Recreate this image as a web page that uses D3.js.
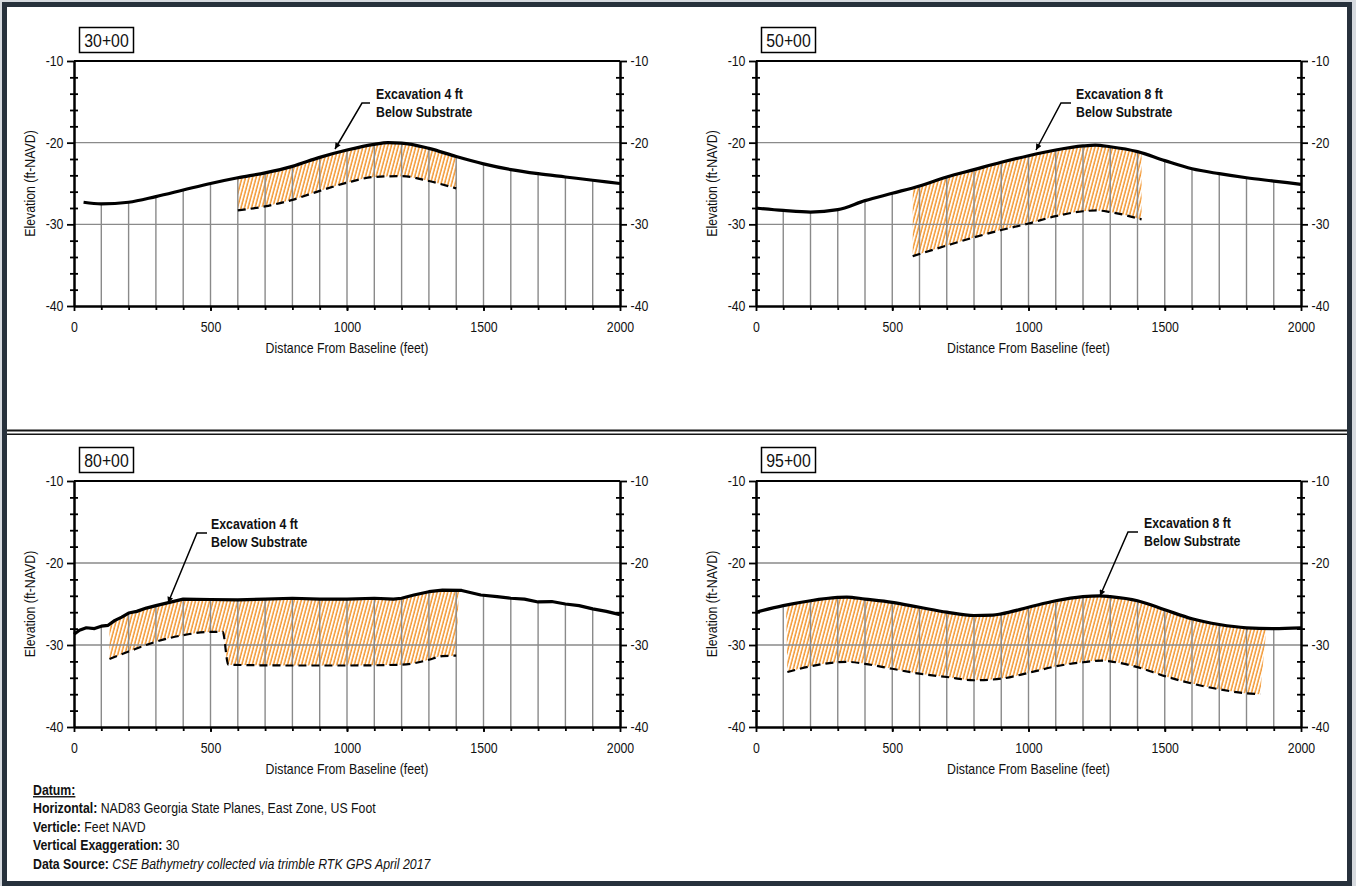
<!DOCTYPE html>
<html>
<head>
<meta charset="utf-8">
<script src="https://cdn.jsdelivr.net/npm/d3@7"></script>
<style>
body{margin:0;background:#fff;}
svg{display:block;font-family:"Liberation Sans Narrow","Arial Narrow","Liberation Sans",Arial,sans-serif;}
</style>
</head>
<body>
<div id="chart-area"></div>
<script>
// values
var stations = ["30+00","50+00","80+00","95+00"];
var cutLabels = ["Excavation 4 ft","Excavation 8 ft","Excavation 4 ft","Excavation 8 ft"];
var xTicks = [0,500,1000,1500,2000];
var yTicks = [-10,-20,-30,-40];
var hatchSpans = [[600,1400],[575,1415],[130,1410],[110,1873]];

// ground profile, [distance ft, elevation ft]
var ground30 = [[35,-27.3],[100,-27.5],[200,-27.3],[300,-26.6],[400,-25.8],[500,-25.0],[600,-24.3],[700,-23.7],[800,-22.9],[900,-21.8],[1000,-20.9],[1100,-20.2],[1150,-20.0],[1200,-20.05],[1300,-20.7],[1400,-21.7],[1500,-22.6],[1600,-23.3],[1700,-23.8],[1800,-24.2],[1900,-24.6],[2000,-25.0]];
var ground50 = [[0,-28.0],[100,-28.3],[200,-28.5],[300,-28.2],[400,-27.1],[500,-26.2],[600,-25.3],[700,-24.2],[800,-23.3],[900,-22.4],[1000,-21.6],[1100,-20.9],[1200,-20.4],[1245,-20.3],[1300,-20.5],[1400,-21.1],[1500,-22.2],[1600,-23.2],[1700,-23.8],[1800,-24.3],[1900,-24.7],[2000,-25.1]];
var ground80 = [[0,-28.7],[20,-28.2],[45,-27.9],[75,-28.0],[100,-27.7],[125,-27.6],[150,-27.0],[175,-26.6],[200,-26.1],[230,-25.9],[265,-25.5],[300,-25.2],[350,-24.8],[400,-24.4],[500,-24.45],[600,-24.5],[700,-24.4],[800,-24.3],[900,-24.4],[1000,-24.4],[1100,-24.3],[1170,-24.4],[1200,-24.3],[1245,-23.9],[1300,-23.5],[1350,-23.3],[1420,-23.35],[1490,-23.9],[1550,-24.1],[1600,-24.3],[1650,-24.4],[1700,-24.75],[1750,-24.7],[1800,-25.0],[1850,-25.2],[1900,-25.6],[1950,-25.9],[2000,-26.3]];
var ground95 = [[0,-26.0],[100,-25.2],[200,-24.6],[300,-24.2],[333,-24.15],[400,-24.4],[500,-24.8],[600,-25.4],[700,-26.0],[800,-26.4],[870,-26.35],[900,-26.2],[1000,-25.4],[1100,-24.6],[1200,-24.1],[1262,-24.0],[1300,-24.1],[1400,-24.6],[1500,-25.7],[1600,-26.8],[1700,-27.5],[1800,-27.9],[1900,-28.0],[2000,-27.9]];

// excavation bottom (dashed)
var cut30 = [[600,-28.3],[700,-27.8],[800,-27.0],[900,-25.9],[1000,-24.9],[1100,-24.2],[1200,-24.1],[1300,-24.7],[1400,-25.6]];
var cut50 = [[575,-33.9],[700,-32.6],[800,-31.6],[900,-30.7],[1000,-29.9],[1100,-29.0],[1200,-28.4],[1250,-28.3],[1300,-28.5],[1415,-29.4]];
var cut80 = [[130,-31.7],[200,-30.8],[300,-29.6],[400,-28.8],[500,-28.4],[545,-28.4],[565,-32.4],[800,-32.5],[1000,-32.5],[1200,-32.4],[1250,-32.2],[1300,-31.8],[1350,-31.35],[1400,-31.3]];
var cut95 = [[115,-33.3],[200,-32.6],[300,-32.1],[333,-32.05],[400,-32.3],[500,-32.9],[600,-33.5],[700,-33.9],[800,-34.3],[900,-34.1],[1000,-33.4],[1100,-32.6],[1200,-32.1],[1270,-31.9],[1300,-32.0],[1400,-32.7],[1500,-33.8],[1600,-34.7],[1700,-35.4],[1800,-35.9],[1850,-36.0]];

var grounds = [ground30, ground50, ground80, ground95];
var cuts = [cut30, cut50, cut80, cut95];

// layout
var boxes = [
    {x:74, y:61, w:546, h:245, smooth:true,  note:{tx:302, kx:288, hx:296, ty:38, px:261, py:88}},
    {x:756, y:61, w:545, h:245, smooth:true, note:{tx:320, kx:305, hx:315, ty:38, px:280, py:89}},
    {x:74, y:481, w:546, h:246, smooth:false, note:{tx:137, kx:123, hx:133, ty:48, px:94, py:122}},
    {x:756, y:481, w:545, h:246, smooth:true, note:{tx:388, kx:372, hx:382, ty:47, px:344, py:115}}
];
var squeeze = 0.88;   // the drawing uses a condensed face

var svg = d3.select("#chart-area").append("svg")
    .attr("width",1356)
    .attr("height",886);

function narrowText(parent, x, y, rot){
    return parent.append("g")
        .attr("transform","translate("+x+","+y+")"+(rot ? " rotate("+rot+")" : "")+" scale("+squeeze+",1)")
      .append("text")
        .attr("font-size",14)
        .attr("fill","#111");
}

svg.append("rect").attr("width",1356).attr("height",886).attr("fill","#d6dadf");
svg.append("rect")
    .attr("x",4.5).attr("y",4.5)
    .attr("width",1345).attr("height",879)
    .attr("fill","#fff")
    .attr("stroke","#27313c")
    .attr("stroke-width",5);

svg.append("line").attr("x1",7).attr("x2",1347).attr("y1",430.5).attr("y2",430.5)
    .attr("stroke","#151515").attr("stroke-width",2.2);
svg.append("line").attr("x1",7).attr("x2",1347).attr("y1",434.2).attr("y2",434.2)
    .attr("stroke","#151515").attr("stroke-width",1.4);

var defs = svg.append("defs");
var pat = defs.append("pattern")
    .attr("id","hatch")
    .attr("patternUnits","userSpaceOnUse")
    .attr("width",3.4).attr("height",12)
    .attr("patternTransform","rotate(15)");
pat.append("line")
    .attr("x1",1).attr("x2",1).attr("y1",0).attr("y2",12)
    .attr("stroke","#f2962f").attr("stroke-width",1.5);

defs.append("marker")
    .attr("id","arrow")
    .attr("viewBox","0 0 10 10")
    .attr("refX",10).attr("refY",5)
    .attr("markerWidth",10).attr("markerHeight",6)
    .attr("markerUnits","userSpaceOnUse")
    .attr("orient","auto")
  .append("path")
    .attr("d","M0,0L10,5L0,10Z")
    .attr("fill","#000");

function elevAt(pts, d){
    var i = d3.bisector((p)=>{return p[0];}).left(pts, d);
    if(i<=0) return pts[0][1];
    if(i>=pts.length) return pts[pts.length-1][1];
    var a = pts[i-1], b = pts[i];
    return a[1] + (b[1]-a[1])*(d-a[0])/(b[0]-a[0]);
}

boxes.forEach((b,i)=>{
    var ground = grounds[i], cut = cuts[i], span = hatchSpans[i];

    var x = d3.scaleLinear().domain([0,2000]).range([b.x, b.x+b.w]);
    var y = d3.scaleLinear().domain([-10,-40]).range([b.y, b.y+b.h]);

    var g = svg.append("g");

    var groundLine = d3.line()
        .x((d)=>{return x(d[0]);})
        .y((d)=>{return y(d[1]);})
        .curve(b.smooth ? d3.curveMonotoneX : d3.curveLinear);
    var cutLine = d3.line()
        .x((d)=>{return x(d[0]);})
        .y((d)=>{return y(d[1]);})
        .curve(d3.curveMonotoneX);

    // hatched excavation: area below ground, clipped above the cut line
    var clipD = cutLine(cut)
        + "L" + x(span[1]) + "," + y(elevAt(ground, span[1]))
        + "L" + x(span[1]) + "," + y(-10)
        + "L" + x(span[0]) + "," + y(-10)
        + "L" + x(span[0]) + "," + y(elevAt(ground, span[0])) + "Z";
    defs.append("clipPath").attr("id","cut"+i)
        .append("path").attr("d", clipD);

    var last = ground[ground.length-1], first = ground[0];
    g.append("path")
        .attr("d", groundLine(ground) + "L" + x(last[0]) + "," + y(-40) + "L" + x(first[0]) + "," + y(-40) + "Z")
        .attr("fill","url(#hatch)")
        .attr("clip-path","url(#cut"+i+")");

    // horizontal grid
    g.selectAll(".hgrid").data([-20,-30]).enter().append("line")
        .attr("x1",x(0)).attr("x2",x(2000))
        .attr("y1",(d)=>{return y(d);}).attr("y2",(d)=>{return y(d);})
        .attr("stroke","#8a8a8a").attr("stroke-width",1.3);

    // vertical grid from ground down
    var vg = d3.range(100,2000,100).filter((d)=>{return d>=first[0];});
    g.selectAll(".vgrid").data(vg).enter().append("line")
        .attr("x1",(d)=>{return x(d);}).attr("x2",(d)=>{return x(d);})
        .attr("y1",(d)=>{return y(elevAt(ground,d));})
        .attr("y2",y(-40))
        .attr("stroke","#8a8a8a").attr("stroke-width",1.4);

    // frame top line
    g.append("line").attr("x1",x(0)).attr("x2",x(2000)).attr("y1",y(-10)).attr("y2",y(-10))
        .attr("stroke","#000").attr("stroke-width",1.8);

    // axes
    var fmt = (d)=>{return String(d);};
    var minor = d3.range(-10,-41,-2).filter((d)=>{return d%10!==0;});
    var left = g.append("g").attr("transform","translate("+x(0)+",0)")
        .call(d3.axisLeft(y).tickValues(yTicks).tickFormat(fmt).tickSize(7).tickSizeOuter(0).tickPadding(5));
    var leftMinor = g.append("g").attr("transform","translate("+x(0)+",0)")
        .call(d3.axisLeft(y).tickValues(minor).tickFormat("").tickSizeOuter(0));
    leftMinor.selectAll(".tick line").attr("x1",-4).attr("x2",4);
    var right = g.append("g").attr("transform","translate("+x(2000)+",0)")
        .call(d3.axisRight(y).tickValues(yTicks).tickFormat(fmt).tickSize(7).tickSizeOuter(0).tickPadding(5));
    var rightMinor = g.append("g").attr("transform","translate("+x(2000)+",0)")
        .call(d3.axisRight(y).tickValues(minor).tickFormat("").tickSizeOuter(0));
    rightMinor.selectAll(".tick line").attr("x1",-4).attr("x2",4);
    var bottom = g.append("g").attr("transform","translate(0,"+y(-40)+")")
        .call(d3.axisBottom(x).tickValues(xTicks).tickFormat(fmt).tickSize(5).tickSizeOuter(0).tickPadding(11));
    var bottomMinor = g.append("g").attr("transform","translate(0,"+y(-40)+")")
        .call(d3.axisBottom(x).tickValues(d3.range(100,2000,100)).tickFormat("").tickSize(4).tickSizeOuter(0));

    [left,leftMinor,right,rightMinor,bottom,bottomMinor].forEach((a)=>{
        a.select(".domain").attr("stroke","#000").attr("stroke-width",2);
        a.selectAll(".tick line").attr("stroke","#000").attr("stroke-width",1.8);
        a.selectAll("text").attr("font-family",null).attr("font-size",14).attr("fill","#111")
            .attr("transform","scale("+squeeze+",1)");
    });

    // ground and cut lines
    g.append("path").attr("d",cutLine(cut))
        .attr("fill","none").attr("stroke","#000")
        .attr("stroke-width",2.2).attr("stroke-dasharray","8,5");
    g.append("path").attr("d",groundLine(ground))
        .attr("fill","none").attr("stroke","#000")
        .attr("stroke-width",3.2).attr("stroke-linejoin","round");

    // axis titles
    narrowText(g, x(1000), y(-40)+47)
        .attr("text-anchor","middle")
        .text("Distance From Baseline (feet)");
    narrowText(g, x(0)-39, y(-25), -90)
        .attr("text-anchor","middle")
        .text("Elevation (ft-NAVD)");

    // station box
    g.append("rect")
        .attr("x",b.x+5.5).attr("y",b.y-33.5)
        .attr("width",54).attr("height",25)
        .attr("fill","#fff").attr("stroke","#000").attr("stroke-width",1.5);
    narrowText(g, b.x+32.5, b.y-14)
        .attr("text-anchor","middle").attr("font-size",18)
        .text(stations[i]);

    // annotation
    var n = b.note;
    g.append("path")
        .attr("d","M"+(b.x+n.hx)+","+(b.y+n.ty+4)+"L"+(b.x+n.kx)+","+(b.y+n.ty+4)+"L"+(b.x+n.px)+","+(b.y+n.py))
        .attr("fill","none").attr("stroke","#000").attr("stroke-width",1.5)
        .attr("marker-end","url(#arrow)");
    var t = narrowText(g, b.x+n.tx, b.y+n.ty).attr("font-weight","bold");
    t.append("tspan").attr("x",0).text(cutLabels[i]);
    t.append("tspan").attr("x",0).attr("dy",18).text("Below Substrate");
});

// datum notes
var notes = [
    ["Horizontal: ","NAD83 Georgia State Planes, East Zone, US Foot",false],
    ["Verticle: ","Feet NAVD",false],
    ["Vertical Exaggeration: ","30",false],
    ["Data Source: ","CSE Bathymetry collected via trimble RTK GPS April 2017",true]
];
narrowText(svg, 33, 795)
    .attr("font-weight","bold").attr("text-decoration","underline")
    .text("Datum:");
notes.forEach((r,i)=>{
    var t = narrowText(svg, 33, 813+i*18.5);
    t.append("tspan").attr("font-weight","bold").text(r[0]);
    t.append("tspan").attr("font-style",r[2] ? "italic" : null).text(r[1]);
});
</script>
</body>
</html>
